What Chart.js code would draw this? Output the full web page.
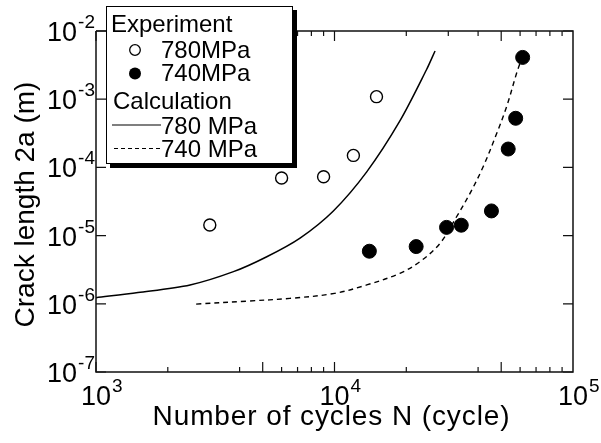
<!DOCTYPE html>
<html>
<head>
<meta charset="utf-8">
<script src="https://cdn.jsdelivr.net/npm/chart.js@4/dist/chart.umd.min.js"></script>
<style>
  html, body { margin: 0; padding: 0; background: #fff; }
  #wrap { width: 601px; height: 443px; position: relative; }
</style>
</head>
<body>
<div id="wrap"><canvas id="c" width="601" height="443"></canvas></div>
<script>
// ---- data ----
const exp780N = [3000, 6000, 9000, 12000, 15000];
const exp780A = [1.43e-5, 7.0e-5, 7.3e-5, 1.5e-4, 1.09e-3];

const exp740N = [14000, 22000, 29500, 34000, 45500, 53500, 57500, 61500];
const exp740A = [5.9e-6, 6.9e-6, 1.32e-5, 1.42e-5, 2.3e-5, 1.86e-4, 5.25e-4, 4.1e-3];

const calc780N = [1000, 1500, 2480, 3770, 5200, 7170, 9890, 13650, 18800, 24300, 26400];
const calc780A = [1.23e-6, 1.46e-6, 1.89e-6, 2.96e-6, 4.9e-6, 9.2e-6, 2.3e-5, 8.6e-5, 4.8e-4, 2.7e-3, 5.1e-3];

const calc740N = [2630, 4400, 6500, 10000, 13650, 18800, 22800, 27700, 32500, 37000, 42000, 47900, 52700, 58000, 60000];
const calc740A = [9.9e-7, 1.1e-6, 1.2e-6, 1.42e-6, 1.89e-6, 2.8e-6, 4.14e-6, 7.7e-6, 1.89e-5, 4.17e-5, 1.02e-4, 3.16e-4, 7.8e-4, 2.4e-3, 3.4e-3];

const xTickExps = [3, 4, 5];
const yTickExps = [-2, -3, -4, -5, -6, -7];
const xMinorBottom = [2, 4, 5, 6, 7, 8, 9];
const xMinorTop = [2, 3, 4, 5, 6, 7, 8, 9];

const xTitle = 'Number of cycles N (cycle)';
const yTitle = 'Crack length 2a (m)';
const legendItems = ['Experiment', '780MPa', '740MPa', 'Calculation', '780 MPa', '740 MPa'];

const FONT = 'Arial, "Liberation Sans", sans-serif';
const toPts = (xs, ys) => xs.map((x, i) => ({x: x, y: ys[i]}));

const axesPlugin = {
  id: 'axesPlugin',
  afterDraw(chart) {
    const ctx = chart.ctx;
    const xs = chart.scales.x, ys = chart.scales.y;
    const a = chart.chartArea;
    ctx.save();
    ctx.strokeStyle = '#111';
    ctx.lineWidth = 1.5;
    // frame
    ctx.beginPath();
    ctx.moveTo(a.left, a.top); ctx.lineTo(a.left, a.bottom); ctx.lineTo(a.right, a.bottom);
    ctx.lineTo(a.right, a.top); ctx.lineTo(a.left, a.top);
    ctx.stroke();
    // x ticks
    ctx.lineWidth = 1.2;
    for (let e = 3; e < 5; e++) {
      const base = Math.pow(10, e);
      const px = xs.getPixelForValue(base);
      ctx.beginPath();
      ctx.moveTo(px, a.bottom); ctx.lineTo(px, a.bottom - 10);
      ctx.moveTo(px, a.top); ctx.lineTo(px, a.top + 10);
      ctx.stroke();
      xMinorBottom.forEach(m => {
        const p = xs.getPixelForValue(m * base);
        const len = m === 5 ? 10 : 5;
        ctx.beginPath(); ctx.moveTo(p, a.bottom); ctx.lineTo(p, a.bottom - len); ctx.stroke();
      });
      xMinorTop.forEach(m => {
        const p = xs.getPixelForValue(m * base);
        const len = m === 5 ? 10 : 5;
        ctx.beginPath(); ctx.moveTo(p, a.top); ctx.lineTo(p, a.top + len); ctx.stroke();
      });
    }
    // y ticks
    yTickExps.forEach(e => {
      const py = ys.getPixelForValue(Math.pow(10, e));
      ctx.beginPath();
      ctx.moveTo(a.left, py); ctx.lineTo(a.left + 10, py);
      ctx.moveTo(a.right, py); ctx.lineTo(a.right - 10, py);
      ctx.stroke();
    });
    // tick labels
    ctx.fillStyle = '#000';
    yTickExps.forEach(e => {
      const py = ys.getPixelForValue(Math.pow(10, e));
      ctx.font = '19px ' + FONT;
      const expStr = String(e);
      const ew = ctx.measureText(expStr).width;
      ctx.textAlign = 'left'; ctx.textBaseline = 'alphabetic';
      const expX = a.left - 1 - ew;
      ctx.fillText(expStr, expX, py - 3);
      ctx.font = '27px ' + FONT;
      ctx.textAlign = 'right';
      ctx.fillText('10', expX - 1, py + 10);
    });
    xTickExps.forEach(e => {
      const px = xs.getPixelForValue(Math.pow(10, e));
      ctx.font = '27px ' + FONT;
      ctx.textAlign = 'center'; ctx.textBaseline = 'alphabetic';
      ctx.fillText('10', px, a.bottom + 33);
      ctx.font = '19px ' + FONT;
      ctx.textAlign = 'left';
      ctx.fillText(String(e), px + 16, a.bottom + 20);
    });
    // axis titles
    ctx.font = '28px ' + FONT;
    ctx.textAlign = 'center'; ctx.textBaseline = 'alphabetic';
    try { ctx.letterSpacing = '0.9px'; } catch (err) {}
    ctx.fillText(xTitle, (a.left + a.right) / 2 - 3, 425);
    try { ctx.letterSpacing = '0px'; } catch (err) {}
    ctx.save();
    ctx.translate(34, (a.top + a.bottom) / 2 + 3);
    ctx.rotate(-Math.PI / 2);
    ctx.fillText(yTitle, 0, 0);
    ctx.restore();

    // legend
    const L = 106, T = 6, R = 293, B = 164;
    ctx.fillStyle = '#000';
    ctx.fillRect(L + 4, T + 4, R - L, B - T);
    ctx.fillStyle = '#fff';
    ctx.fillRect(L, T, R - L, B - T);
    ctx.lineWidth = 1;
    ctx.strokeStyle = '#000';
    ctx.strokeRect(L + 0.5, T + 0.5, R - L - 1, B - T - 1);
    ctx.fillStyle = '#000';
    ctx.font = '24px ' + FONT;
    ctx.textAlign = 'left';
    ctx.fillText(legendItems[0], 111, 31.5);
    ctx.lineWidth = 1.3;
    ctx.beginPath(); ctx.arc(135, 50, 5.3, 0, Math.PI * 2); ctx.stroke();
    ctx.fillText(legendItems[1], 161, 57.5);
    ctx.beginPath(); ctx.arc(135, 73.5, 6, 0, Math.PI * 2); ctx.fill();
    ctx.fillText(legendItems[2], 161, 81);
    ctx.fillText(legendItems[3], 113, 108.5);
    ctx.lineWidth = 1.2;
    ctx.beginPath(); ctx.moveTo(112, 125); ctx.lineTo(161, 125); ctx.stroke();
    ctx.fillText(legendItems[4], 161, 133.5);
    ctx.setLineDash([4, 3]);
    ctx.beginPath(); ctx.moveTo(114, 148.5); ctx.lineTo(161, 148.5); ctx.stroke();
    ctx.setLineDash([]);
    ctx.fillText(legendItems[5], 161, 157);
    ctx.restore();
  }
};

new Chart(document.getElementById('c'), {
  type: 'scatter',
  data: {
    datasets: [
      {
        label: '780 MPa calc', data: toPts(calc780N, calc780A), showLine: true,
        borderColor: '#000', borderWidth: 1.5, pointRadius: 0, fill: false,
        tension: 0.3
      },
      {
        label: '740 MPa calc', data: toPts(calc740N, calc740A), showLine: true,
        borderColor: '#000', borderWidth: 1.4, borderDash: [5, 4], pointRadius: 0, fill: false,
        tension: 0.35
      },
      {
        label: '780MPa', data: toPts(exp780N, exp780A), showLine: false,
        pointRadius: 6, pointBackgroundColor: '#fff', pointBorderColor: '#000', pointBorderWidth: 1.4
      },
      {
        label: '740MPa', data: toPts(exp740N, exp740A), showLine: false,
        pointRadius: 7, pointBackgroundColor: '#000', pointBorderColor: '#000', pointBorderWidth: 1
      }
    ]
  },
  options: {
    responsive: false,
    animation: false,
    devicePixelRatio: 1,
    layout: { padding: { left: 96, right: 28, top: 31, bottom: 71 } },
    plugins: { legend: { display: false }, tooltip: { enabled: false } },
    scales: {
      x: { type: 'logarithmic', min: 1000, max: 100000, display: false },
      y: { type: 'logarithmic', min: 1e-7, max: 1e-2, display: false }
    }
  },
  plugins: [axesPlugin]
});
</script>
</body>
</html>
